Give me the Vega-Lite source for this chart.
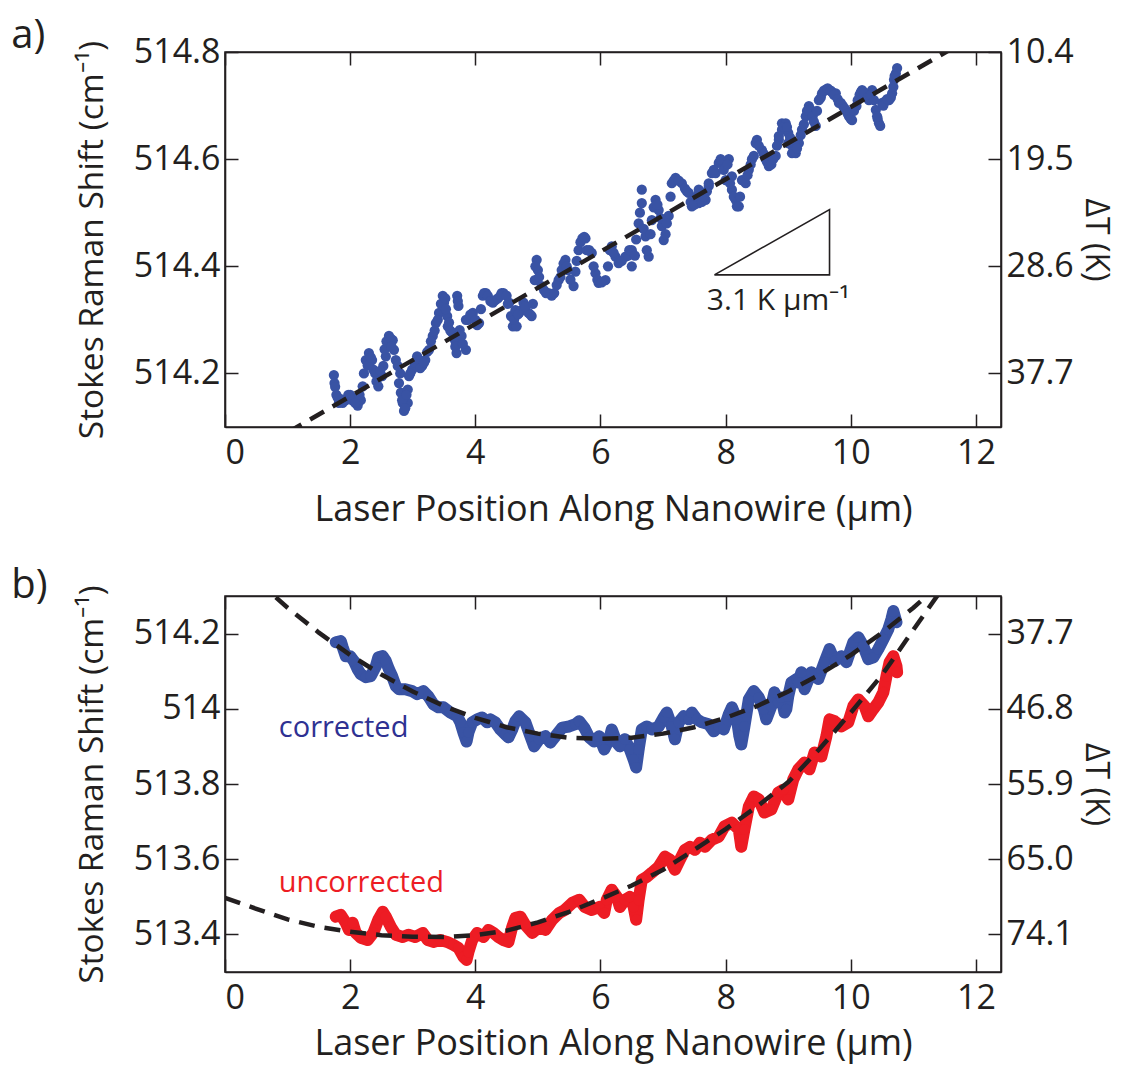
{
  "$schema": "https://vega.github.io/schema/vega-lite/v6.json",
  "background": "white",
  "padding": {"left": 10, "top": 15, "right": 0, "bottom": 3},
  "config": {
    "font": "Open Sans",
    "view": {"stroke": "#231f20", "strokeWidth": 1.6},
    "axis": {"domainColor": "#231f20", "domainWidth": 1.6, "tickColor": "#231f20", "tickWidth": 1.5, "tickSize": -13, "labelFontSize": 34, "labelColor": "#231f20", "titleFontSize": 33.5, "titleFontWeight": "normal", "titleColor": "#231f20", "grid": false, "labelPadding": 18},
    "axisBottom": {"titleFontSize": 36, "titlePadding": 22, "labelPadding": 22},
    "axisRight": {"labelPadding": 18, "titleFontSize": 32},
    "title": {"fontSize": 40, "fontWeight": "normal", "color": "#231f20", "anchor": "start"},
    "concat": {"spacing": 36}
  },
  "datasets": {
    "ptsA": [
      {"x":1.74,"y":514.197},{"x":1.75,"y":514.182},{"x":1.78,"y":514.16},{"x":1.82,"y":514.145},{"x":1.85,"y":514.152},{"x":1.93,"y":514.15},{"x":1.97,"y":514.16},{"x":2.03,"y":514.15},{"x":2.12,"y":514.14},{"x":2.17,"y":514.15},{"x":2.2,"y":514.176},{"x":2.25,"y":514.225},{"x":2.3,"y":514.238},{"x":2.35,"y":514.225},{"x":2.37,"y":514.207},{"x":2.45,"y":514.195},{"x":2.45,"y":514.176},{"x":2.51,"y":514.195},{"x":2.53,"y":514.214},{"x":2.57,"y":514.232},{"x":2.6,"y":514.257},{"x":2.62,"y":514.27},{"x":2.68,"y":514.262},{"x":2.7,"y":514.244},{"x":2.73,"y":514.225},{"x":2.76,"y":514.214},{"x":2.78,"y":514.182},{"x":2.81,"y":514.164},{"x":2.84,"y":514.145},{"x":2.86,"y":514.13},{"x":2.92,"y":514.145},{"x":2.92,"y":514.17},{"x":2.94,"y":514.195},{"x":2.99,"y":514.207},{"x":3.07,"y":514.232},{"x":3.15,"y":514.214},{"x":3.2,"y":514.225},{"x":3.26,"y":514.244},{"x":3.32,"y":514.27},{"x":3.37,"y":514.294},{"x":3.42,"y":514.313},{"x":3.48,"y":514.345},{"x":3.5,"y":514.332},{"x":3.55,"y":514.307},{"x":3.56,"y":514.288},{"x":3.63,"y":514.276},{"x":3.69,"y":514.257},{"x":3.7,"y":514.238},{"x":3.71,"y":514.345},{"x":3.73,"y":514.326},{"x":3.75,"y":514.281},{"x":3.85,"y":514.244},{"x":3.85,"y":514.3},{"x":3.96,"y":514.313},{"x":4.06,"y":514.294},{"x":4.12,"y":514.345},{"x":4.17,"y":514.35},{"x":4.28,"y":514.332},{"x":4.32,"y":514.337},{"x":4.42,"y":514.35},{"x":4.45,"y":514.35},{"x":4.54,"y":514.332},{"x":4.57,"y":514.307},{"x":4.6,"y":514.288},{"x":4.64,"y":514.318},{"x":4.66,"y":514.288},{"x":4.7,"y":514.313},{"x":4.74,"y":514.318},{"x":4.77,"y":514.332},{"x":4.85,"y":514.313},{"x":4.9,"y":514.307},{"x":4.95,"y":514.374},{"x":4.98,"y":514.412},{"x":5.0,"y":514.393},{"x":5.06,"y":514.363},{"x":5.17,"y":514.35},{"x":5.22,"y":514.345},{"x":5.33,"y":514.374},{"x":5.38,"y":514.393},{"x":5.44,"y":514.412},{"x":5.48,"y":514.393},{"x":5.57,"y":514.363},{"x":5.65,"y":514.43},{"x":5.71,"y":514.452},{"x":5.76,"y":514.452},{"x":5.78,"y":514.43},{"x":5.86,"y":514.425},{"x":5.92,"y":514.387},{"x":5.97,"y":514.369},{"x":6.08,"y":514.374},{"x":6.18,"y":514.437},{"x":6.24,"y":514.418},{"x":6.29,"y":514.406},{"x":6.4,"y":514.418},{"x":6.5,"y":514.43},{"x":6.5,"y":514.4},{"x":6.61,"y":514.48},{"x":6.66,"y":514.518},{"x":6.66,"y":514.543},{"x":6.72,"y":514.456},{"x":6.77,"y":514.418},{"x":6.82,"y":514.486},{"x":6.88,"y":514.524},{"x":6.93,"y":514.505},{"x":6.98,"y":514.475},{"x":7.01,"y":514.449},{"x":7.09,"y":514.494},{"x":7.14,"y":514.555},{"x":7.2,"y":514.565},{"x":7.3,"y":514.555},{"x":7.41,"y":514.537},{"x":7.46,"y":514.512},{"x":7.57,"y":514.518},{"x":7.57,"y":514.543},{"x":7.68,"y":514.524},{"x":7.73,"y":514.55},{"x":7.73,"y":514.555},{"x":7.78,"y":514.574},{"x":7.84,"y":514.574},{"x":7.89,"y":514.593},{"x":7.94,"y":514.593},{"x":8.0,"y":514.561},{"x":8.05,"y":514.6},{"x":8.1,"y":514.543},{"x":8.1,"y":514.568},{"x":8.16,"y":514.524},{"x":8.18,"y":514.512},{"x":8.21,"y":514.512},{"x":8.26,"y":514.561},{"x":8.32,"y":514.555},{"x":8.37,"y":514.58},{"x":8.42,"y":514.6},{"x":8.45,"y":514.606},{"x":8.48,"y":514.63},{"x":8.5,"y":514.636},{"x":8.58,"y":514.617},{"x":8.64,"y":514.6},{"x":8.69,"y":514.593},{"x":8.69,"y":514.587},{"x":8.8,"y":514.606},{"x":8.85,"y":514.636},{"x":8.85,"y":514.643},{"x":8.9,"y":514.655},{"x":8.9,"y":514.667},{"x":8.96,"y":514.667},{"x":9.0,"y":514.649},{"x":9.0,"y":514.63},{"x":9.06,"y":514.611},{"x":9.06,"y":514.625},{"x":9.12,"y":514.611},{"x":9.17,"y":514.63},{"x":9.22,"y":514.655},{"x":9.28,"y":514.68},{"x":9.33,"y":514.699},{"x":9.36,"y":514.692},{"x":9.44,"y":514.662},{"x":9.49,"y":514.71},{"x":9.54,"y":514.723},{"x":9.6,"y":514.73},{"x":9.65,"y":514.729},{"x":9.7,"y":514.725},{"x":9.76,"y":514.723},{"x":9.81,"y":514.705},{"x":9.87,"y":514.7},{"x":9.92,"y":514.692},{"x":9.97,"y":514.68},{"x":10.02,"y":514.673},{"x":10.09,"y":514.699},{"x":10.14,"y":514.72},{"x":10.18,"y":514.729},{"x":10.24,"y":514.72},{"x":10.29,"y":514.71},{"x":10.34,"y":514.729},{"x":10.4,"y":514.692},{"x":10.43,"y":514.675},{"x":10.45,"y":514.667},{"x":10.47,"y":514.662},{"x":10.5,"y":514.705},{"x":10.55,"y":514.708},{"x":10.61,"y":514.71},{"x":10.66,"y":514.723},{"x":10.69,"y":514.748},{"x":10.72,"y":514.76},{"x":10.74,"y":514.77},
      {"x":1.76,"y":514.175},{"x":1.8,"y":514.155},{"x":1.88,"y":514.145},{"x":2.0,"y":514.16},{"x":2.08,"y":514.145},{"x":2.15,"y":514.16},{"x":2.22,"y":514.2},{"x":2.28,"y":514.215},{"x":2.33,"y":514.23},{"x":2.4,"y":514.2},{"x":2.42,"y":514.185},{"x":2.48,"y":514.205},{"x":2.55,"y":514.245},{"x":2.58,"y":514.26},{"x":2.65,"y":514.265},{"x":2.66,"y":514.25},{"x":2.8,"y":514.2},{"x":2.83,"y":514.15},{"x":2.88,"y":514.135},{"x":2.9,"y":514.16},{"x":2.96,"y":514.2},{"x":3.03,"y":514.22},{"x":3.1,"y":514.225},{"x":3.12,"y":514.21},{"x":3.18,"y":514.22},{"x":3.23,"y":514.24},{"x":3.29,"y":514.26},{"x":3.35,"y":514.28},{"x":3.4,"y":514.3},{"x":3.45,"y":514.33},{"x":3.52,"y":514.34},{"x":3.53,"y":514.32},{"x":3.58,"y":514.295},{"x":3.6,"y":514.28},{"x":3.66,"y":514.265},{"x":3.68,"y":514.25},{"x":3.72,"y":514.335},{"x":3.78,"y":514.27},{"x":3.8,"y":514.255},{"x":3.88,"y":514.3},{"x":3.92,"y":514.31},{"x":4.0,"y":514.3},{"x":4.03,"y":514.29},{"x":4.09,"y":514.32},{"x":4.14,"y":514.35},{"x":4.2,"y":514.345},{"x":4.24,"y":514.335},{"x":4.36,"y":514.34},{"x":4.4,"y":514.345},{"x":4.5,"y":514.345},{"x":4.52,"y":514.33},{"x":4.62,"y":514.3},{"x":4.68,"y":514.31},{"x":4.8,"y":514.325},{"x":4.88,"y":514.31},{"x":4.92,"y":514.33},{"x":4.96,"y":514.4},{"x":5.02,"y":514.38},{"x":5.1,"y":514.355},{"x":5.13,"y":514.35},{"x":5.26,"y":514.35},{"x":5.3,"y":514.365},{"x":5.36,"y":514.38},{"x":5.41,"y":514.405},{"x":5.46,"y":514.4},{"x":5.52,"y":514.375},{"x":5.6,"y":514.39},{"x":5.62,"y":514.41},{"x":5.68,"y":514.445},{"x":5.74,"y":514.455},{"x":5.82,"y":514.43},{"x":5.89,"y":514.4},{"x":5.95,"y":514.375},{"x":6.02,"y":514.37},{"x":6.12,"y":514.4},{"x":6.15,"y":514.43},{"x":6.21,"y":514.425},{"x":6.34,"y":514.41},{"x":6.44,"y":514.42},{"x":6.46,"y":514.43},{"x":6.55,"y":514.42},{"x":6.57,"y":514.45},{"x":6.63,"y":514.5},{"x":6.69,"y":514.47},{"x":6.74,"y":514.43},{"x":6.8,"y":514.46},{"x":6.85,"y":514.51},{"x":6.91,"y":514.515},{"x":6.96,"y":514.49},{"x":7.04,"y":514.46},{"x":7.06,"y":514.48},{"x":7.12,"y":514.53},{"x":7.17,"y":514.56},{"x":7.25,"y":514.56},{"x":7.35,"y":514.545},{"x":7.38,"y":514.54},{"x":7.44,"y":514.52},{"x":7.5,"y":514.515},{"x":7.53,"y":514.53},{"x":7.62,"y":514.52},{"x":7.65,"y":514.53},{"x":7.7,"y":514.54},{"x":7.81,"y":514.58},{"x":7.92,"y":514.6},{"x":7.97,"y":514.58},{"x":8.03,"y":514.59},{"x":8.07,"y":514.555},{"x":8.13,"y":514.53},{"x":8.23,"y":514.53},{"x":8.29,"y":514.56},{"x":8.35,"y":514.57},{"x":8.4,"y":514.59},{"x":8.53,"y":514.625},{"x":8.61,"y":514.61},{"x":8.66,"y":514.595},{"x":8.73,"y":514.59},{"x":8.76,"y":514.6},{"x":8.82,"y":514.625},{"x":8.93,"y":514.66},{"x":8.98,"y":514.66},{"x":9.03,"y":514.64},{"x":9.09,"y":514.615},{"x":9.14,"y":514.62},{"x":9.2,"y":514.645},{"x":9.25,"y":514.665},{"x":9.3,"y":514.69},{"x":9.39,"y":514.68},{"x":9.41,"y":514.67},{"x":9.46,"y":514.69},{"x":9.52,"y":514.715},{"x":9.57,"y":514.728},{"x":9.63,"y":514.732},{"x":9.68,"y":514.728},{"x":9.73,"y":514.72},{"x":9.79,"y":514.712},{"x":9.84,"y":514.705},{"x":9.9,"y":514.695},{"x":9.95,"y":514.685},{"x":10.0,"y":514.675},{"x":10.05,"y":514.69},{"x":10.11,"y":514.71},{"x":10.16,"y":514.725},{"x":10.21,"y":514.725},{"x":10.27,"y":514.715},{"x":10.32,"y":514.72},{"x":10.37,"y":514.71},{"x":10.42,"y":514.68},{"x":10.52,"y":514.7},{"x":10.58,"y":514.712},{"x":10.64,"y":514.715},{"x":10.68,"y":514.735},{"x":10.7,"y":514.755}
    ],
    "fitA": [{"x":1.0,"y":514.0898},{"x":12.0,"y":514.8323}],
    "triA": [{"o":1,"x":7.82,"y":514.384},{"o":2,"x":9.66,"y":514.384},{"o":3,"x":9.66,"y":514.506},{"o":4,"x":7.82,"y":514.384}],
    "txtA": [{"x":7.7,"y":514.318,"t":"3.1 K µm⁻¹"}],
    "ptsB": [
      {"s":"corrected","x":1.77,"y":514.177},{"s":"corrected","x":1.85,"y":514.18},{"s":"corrected","x":1.88,"y":514.164},{"s":"corrected","x":1.93,"y":514.14},{"s":"corrected","x":2.0,"y":514.14},{"s":"corrected","x":2.06,"y":514.127},{"s":"corrected","x":2.12,"y":514.105},{"s":"corrected","x":2.17,"y":514.092},{"s":"corrected","x":2.25,"y":514.084},{"s":"corrected","x":2.33,"y":514.087},{"s":"corrected","x":2.41,"y":514.113},{"s":"corrected","x":2.45,"y":514.137},{"s":"corrected","x":2.52,"y":514.14},{"s":"corrected","x":2.57,"y":514.127},{"s":"corrected","x":2.62,"y":514.105},{"s":"corrected","x":2.67,"y":514.087},{"s":"corrected","x":2.73,"y":514.06},{"s":"corrected","x":2.78,"y":514.052},{"s":"corrected","x":2.88,"y":514.052},{"s":"corrected","x":2.99,"y":514.047},{"s":"corrected","x":3.07,"y":514.039},{"s":"corrected","x":3.17,"y":514.047},{"s":"corrected","x":3.25,"y":514.033},{"s":"corrected","x":3.33,"y":514.012},{"s":"corrected","x":3.41,"y":514.004},{"s":"corrected","x":3.49,"y":514.004},{"s":"corrected","x":3.6,"y":513.99},{"s":"corrected","x":3.71,"y":513.98},{"s":"corrected","x":3.76,"y":513.964},{"s":"corrected","x":3.81,"y":513.937},{"s":"corrected","x":3.86,"y":513.913},{"s":"corrected","x":3.89,"y":513.937},{"s":"corrected","x":3.95,"y":513.964},{"s":"corrected","x":4.03,"y":513.972},{"s":"corrected","x":4.11,"y":513.977},{"s":"corrected","x":4.19,"y":513.964},{"s":"corrected","x":4.24,"y":513.972},{"s":"corrected","x":4.32,"y":513.964},{"s":"corrected","x":4.4,"y":513.945},{"s":"corrected","x":4.48,"y":513.932},{"s":"corrected","x":4.53,"y":513.924},{"s":"corrected","x":4.59,"y":513.945},{"s":"corrected","x":4.64,"y":513.967},{"s":"corrected","x":4.7,"y":513.98},{"s":"corrected","x":4.8,"y":513.964},{"s":"corrected","x":4.88,"y":513.927},{"s":"corrected","x":4.94,"y":513.9},{"s":"corrected","x":5.02,"y":513.919},{"s":"corrected","x":5.12,"y":513.927},{"s":"corrected","x":5.2,"y":513.91},{"s":"corrected","x":5.28,"y":513.927},{"s":"corrected","x":5.39,"y":513.95},{"s":"corrected","x":5.5,"y":513.953},{"s":"corrected","x":5.6,"y":513.959},{"s":"corrected","x":5.66,"y":513.967},{"s":"corrected","x":5.74,"y":513.95},{"s":"corrected","x":5.82,"y":513.924},{"s":"corrected","x":5.9,"y":513.913},{"s":"corrected","x":5.98,"y":513.927},{"s":"corrected","x":6.06,"y":513.892},{"s":"corrected","x":6.14,"y":513.919},{"s":"corrected","x":6.18,"y":513.945},{"s":"corrected","x":6.26,"y":513.91},{"s":"corrected","x":6.31,"y":513.9},{"s":"corrected","x":6.39,"y":513.919},{"s":"corrected","x":6.47,"y":513.892},{"s":"corrected","x":6.53,"y":513.865},{"s":"corrected","x":6.57,"y":513.844},{"s":"corrected","x":6.61,"y":513.892},{"s":"corrected","x":6.66,"y":513.945},{"s":"corrected","x":6.74,"y":513.953},{"s":"corrected","x":6.82,"y":513.945},{"s":"corrected","x":6.93,"y":513.953},{"s":"corrected","x":7.01,"y":513.977},{"s":"corrected","x":7.06,"y":513.99},{"s":"corrected","x":7.14,"y":513.953},{"s":"corrected","x":7.19,"y":513.919},{"s":"corrected","x":7.25,"y":513.964},{"s":"corrected","x":7.33,"y":513.98},{"s":"corrected","x":7.41,"y":513.972},{"s":"corrected","x":7.46,"y":513.99},{"s":"corrected","x":7.54,"y":513.972},{"s":"corrected","x":7.62,"y":513.964},{"s":"corrected","x":7.73,"y":513.959},{"s":"corrected","x":7.81,"y":513.94},{"s":"corrected","x":7.89,"y":513.953},{"s":"corrected","x":7.97,"y":513.945},{"s":"corrected","x":8.05,"y":513.985},{"s":"corrected","x":8.1,"y":514.004},{"s":"corrected","x":8.18,"y":513.972},{"s":"corrected","x":8.22,"y":513.927},{"s":"corrected","x":8.25,"y":513.905},{"s":"corrected","x":8.3,"y":513.953},{"s":"corrected","x":8.37,"y":514.025},{"s":"corrected","x":8.45,"y":514.047},{"s":"corrected","x":8.53,"y":514.03},{"s":"corrected","x":8.61,"y":513.999},{"s":"corrected","x":8.65,"y":513.972},{"s":"corrected","x":8.73,"y":514.007},{"s":"corrected","x":8.78,"y":514.044},{"s":"corrected","x":8.84,"y":514.017},{"s":"corrected","x":8.89,"y":514.03},{"s":"corrected","x":8.94,"y":513.99},{"s":"corrected","x":8.97,"y":513.999},{"s":"corrected","x":9.0,"y":514.033},{"s":"corrected","x":9.05,"y":514.07},{"s":"corrected","x":9.13,"y":514.079},{"s":"corrected","x":9.16,"y":514.07},{"s":"corrected","x":9.21,"y":514.097},{"s":"corrected","x":9.26,"y":514.052},{"s":"corrected","x":9.37,"y":514.097},{"s":"corrected","x":9.48,"y":514.079},{"s":"corrected","x":9.58,"y":514.124},{"s":"corrected","x":9.66,"y":514.159},{"s":"corrected","x":9.74,"y":514.127},{"s":"corrected","x":9.85,"y":514.14},{"s":"corrected","x":9.93,"y":514.124},{"s":"corrected","x":10.04,"y":514.177},{"s":"corrected","x":10.12,"y":514.19},{"s":"corrected","x":10.2,"y":514.167},{"s":"corrected","x":10.28,"y":514.132},{"s":"corrected","x":10.36,"y":514.137},{"s":"corrected","x":10.44,"y":514.159},{"s":"corrected","x":10.52,"y":514.185},{"s":"corrected","x":10.6,"y":514.212},{"s":"corrected","x":10.65,"y":514.239},{"s":"corrected","x":10.68,"y":514.26},{"s":"corrected","x":10.73,"y":514.23},
      {"s":"uncorrected","x":1.77,"y":513.447},{"s":"uncorrected","x":1.85,"y":513.452},{"s":"uncorrected","x":1.93,"y":513.431},{"s":"uncorrected","x":1.98,"y":513.412},{"s":"uncorrected","x":2.04,"y":513.431},{"s":"uncorrected","x":2.09,"y":513.404},{"s":"uncorrected","x":2.17,"y":513.391},{"s":"uncorrected","x":2.28,"y":513.385},{"s":"uncorrected","x":2.37,"y":513.404},{"s":"uncorrected","x":2.45,"y":513.439},{"s":"uncorrected","x":2.52,"y":513.46},{"s":"uncorrected","x":2.57,"y":513.447},{"s":"uncorrected","x":2.65,"y":513.42},{"s":"uncorrected","x":2.73,"y":513.399},{"s":"uncorrected","x":2.84,"y":513.393},{"s":"uncorrected","x":2.93,"y":513.399},{"s":"uncorrected","x":3.04,"y":513.393},{"s":"uncorrected","x":3.16,"y":513.404},{"s":"uncorrected","x":3.24,"y":513.385},{"s":"uncorrected","x":3.33,"y":513.38},{"s":"uncorrected","x":3.44,"y":513.385},{"s":"uncorrected","x":3.55,"y":513.38},{"s":"uncorrected","x":3.65,"y":513.372},{"s":"uncorrected","x":3.73,"y":513.364},{"s":"uncorrected","x":3.81,"y":513.34},{"s":"uncorrected","x":3.86,"y":513.332},{"s":"uncorrected","x":3.89,"y":513.353},{"s":"uncorrected","x":3.95,"y":513.385},{"s":"uncorrected","x":4.03,"y":513.404},{"s":"uncorrected","x":4.13,"y":513.393},{"s":"uncorrected","x":4.21,"y":513.412},{"s":"uncorrected","x":4.29,"y":513.404},{"s":"uncorrected","x":4.37,"y":513.393},{"s":"uncorrected","x":4.45,"y":513.385},{"s":"uncorrected","x":4.53,"y":513.38},{"s":"uncorrected","x":4.59,"y":513.42},{"s":"uncorrected","x":4.64,"y":513.444},{"s":"uncorrected","x":4.72,"y":513.447},{"s":"uncorrected","x":4.8,"y":513.425},{"s":"uncorrected","x":4.91,"y":513.404},{"s":"uncorrected","x":5.02,"y":513.42},{"s":"uncorrected","x":5.12,"y":513.412},{"s":"uncorrected","x":5.23,"y":513.439},{"s":"uncorrected","x":5.34,"y":513.457},{"s":"uncorrected","x":5.43,"y":513.465},{"s":"uncorrected","x":5.55,"y":513.484},{"s":"uncorrected","x":5.66,"y":513.492},{"s":"uncorrected","x":5.75,"y":513.473},{"s":"uncorrected","x":5.86,"y":513.465},{"s":"uncorrected","x":5.98,"y":513.473},{"s":"uncorrected","x":6.06,"y":513.457},{"s":"uncorrected","x":6.1,"y":513.492},{"s":"uncorrected","x":6.18,"y":513.519},{"s":"uncorrected","x":6.26,"y":513.5},{"s":"uncorrected","x":6.31,"y":513.473},{"s":"uncorrected","x":6.39,"y":513.492},{"s":"uncorrected","x":6.47,"y":513.5},{"s":"uncorrected","x":6.53,"y":513.473},{"s":"uncorrected","x":6.57,"y":513.439},{"s":"uncorrected","x":6.61,"y":513.492},{"s":"uncorrected","x":6.66,"y":513.545},{"s":"uncorrected","x":6.74,"y":513.553},{"s":"uncorrected","x":6.82,"y":513.564},{"s":"uncorrected","x":6.93,"y":513.58},{"s":"uncorrected","x":7.03,"y":513.607},{"s":"uncorrected","x":7.11,"y":513.599},{"s":"uncorrected","x":7.19,"y":513.572},{"s":"uncorrected","x":7.27,"y":513.599},{"s":"uncorrected","x":7.35,"y":513.625},{"s":"uncorrected","x":7.43,"y":513.633},{"s":"uncorrected","x":7.51,"y":513.625},{"s":"uncorrected","x":7.59,"y":513.644},{"s":"uncorrected","x":7.67,"y":513.633},{"s":"uncorrected","x":7.78,"y":513.652},{"s":"uncorrected","x":7.89,"y":513.66},{"s":"uncorrected","x":7.98,"y":513.687},{"s":"uncorrected","x":8.1,"y":513.697},{"s":"uncorrected","x":8.21,"y":513.679},{"s":"uncorrected","x":8.25,"y":513.633},{"s":"uncorrected","x":8.3,"y":513.679},{"s":"uncorrected","x":8.37,"y":513.74},{"s":"uncorrected","x":8.45,"y":513.767},{"s":"uncorrected","x":8.53,"y":513.759},{"s":"uncorrected","x":8.62,"y":513.724},{"s":"uncorrected","x":8.73,"y":513.732},{"s":"uncorrected","x":8.84,"y":513.777},{"s":"uncorrected","x":8.92,"y":513.785},{"s":"uncorrected","x":9.0,"y":513.759},{"s":"uncorrected","x":9.08,"y":513.812},{"s":"uncorrected","x":9.16,"y":513.839},{"s":"uncorrected","x":9.26,"y":513.857},{"s":"uncorrected","x":9.34,"y":513.839},{"s":"uncorrected","x":9.42,"y":513.884},{"s":"uncorrected","x":9.53,"y":513.873},{"s":"uncorrected","x":9.61,"y":513.927},{"s":"uncorrected","x":9.66,"y":513.972},{"s":"uncorrected","x":9.74,"y":513.967},{"s":"uncorrected","x":9.85,"y":513.953},{"s":"uncorrected","x":9.96,"y":513.964},{"s":"uncorrected","x":10.04,"y":514.007},{"s":"uncorrected","x":10.12,"y":514.025},{"s":"uncorrected","x":10.22,"y":514.007},{"s":"uncorrected","x":10.28,"y":513.98},{"s":"uncorrected","x":10.36,"y":513.999},{"s":"uncorrected","x":10.44,"y":514.017},{"s":"uncorrected","x":10.52,"y":514.044},{"s":"uncorrected","x":10.57,"y":514.087},{"s":"uncorrected","x":10.62,"y":514.124},{"s":"uncorrected","x":10.68,"y":514.14},{"s":"uncorrected","x":10.73,"y":514.113},{"s":"uncorrected","x":10.74,"y":514.097}
    ],
    "fitB": [
      {"s":"corrected","x":0.5,"y":514.342},{"s":"corrected","x":1.0,"y":514.269},{"s":"corrected","x":1.5,"y":514.2025},{"s":"corrected","x":2.0,"y":514.143},{"s":"corrected","x":2.5,"y":514.091},{"s":"corrected","x":3.0,"y":514.046},{"s":"corrected","x":3.5,"y":514.007},{"s":"corrected","x":4.0,"y":513.976},{"s":"corrected","x":4.5,"y":513.951},{"s":"corrected","x":5.0,"y":513.934},{"s":"corrected","x":5.5,"y":513.923},{"s":"corrected","x":6.0,"y":513.92},{"s":"corrected","x":6.5,"y":513.923},{"s":"corrected","x":7.0,"y":513.934},{"s":"corrected","x":7.5,"y":513.951},{"s":"corrected","x":8.0,"y":513.976},{"s":"corrected","x":8.5,"y":514.007},{"s":"corrected","x":9.0,"y":514.046},{"s":"corrected","x":9.5,"y":514.091},{"s":"corrected","x":10.0,"y":514.143},{"s":"corrected","x":10.5,"y":514.2025},{"s":"corrected","x":11.0,"y":514.269},{"s":"corrected","x":11.5,"y":514.342},
      {"s":"uncorrected","x":0.0,"y":513.497},{"s":"uncorrected","x":0.5,"y":513.468},{"s":"uncorrected","x":1.0,"y":513.44},{"s":"uncorrected","x":1.5,"y":513.42},{"s":"uncorrected","x":2.0,"y":513.407},{"s":"uncorrected","x":2.5,"y":513.398},{"s":"uncorrected","x":3.0,"y":513.394},{"s":"uncorrected","x":3.5,"y":513.393},{"s":"uncorrected","x":4.0,"y":513.398},{"s":"uncorrected","x":4.5,"y":513.41},{"s":"uncorrected","x":5.0,"y":513.432},{"s":"uncorrected","x":5.5,"y":513.46},{"s":"uncorrected","x":6.0,"y":513.494},{"s":"uncorrected","x":6.5,"y":513.53},{"s":"uncorrected","x":7.0,"y":513.572},{"s":"uncorrected","x":7.5,"y":513.625},{"s":"uncorrected","x":8.0,"y":513.68},{"s":"uncorrected","x":8.5,"y":513.74},{"s":"uncorrected","x":9.0,"y":513.805},{"s":"uncorrected","x":9.5,"y":513.893},{"s":"uncorrected","x":10.0,"y":513.99},{"s":"uncorrected","x":10.5,"y":514.09},{"s":"uncorrected","x":11.0,"y":514.21},{"s":"uncorrected","x":11.4,"y":514.305},{"s":"uncorrected","x":11.6,"y":514.36}
    ],
    "txtB": [{"x":0.86,"y":513.924,"t":"corrected"},{"x":0.86,"y":513.513,"t":"uncorrected"}]
  },
  "vconcat": [
    {
      "width": 776,
      "height": 375,
      "title": {"text": "a)", "dx": -64, "dy": 21, "offset": 0},
      "layer": [
        {
          "data": {"name": "ptsA"},
          "mark": {"type": "circle", "size": 105, "opacity": 1, "color": "#3953a4"},
          "encoding": {
            "x": {"field": "x", "type": "quantitative", "scale": {"domain": [0, 12.4], "nice": false, "zero": false}, "axis": {"orient": "bottom", "values": [0, 2, 4, 6, 8, 10, 12], "format": "d", "title": "Laser Position Along Nanowire (µm)"}},
            "y": {"field": "y", "type": "quantitative", "scale": {"domain": [514.1, 514.8], "nice": false, "zero": false}, "axis": {"orient": "left", "values": [514.2, 514.4, 514.6, 514.8], "format": ".1~f", "title": "Stokes Raman Shift (cm⁻¹)", "titlePadding": 24}}
          }
        },
        {
          "data": {"name": "fitA"},
          "mark": {"type": "line", "color": "#231f20", "strokeWidth": 4.5, "strokeDash": [16, 10], "clip": true},
          "encoding": {
            "x": {"field": "x", "type": "quantitative", "scale": {"domain": [0, 12.4], "nice": false, "zero": false}, "axis": {"orient": "top", "values": [0, 2, 4, 6, 8, 10, 12], "labels": false, "title": null}},
            "y": {"field": "y", "type": "quantitative", "scale": {"domain": [514.1, 514.8], "nice": false, "zero": false}, "axis": {"orient": "right", "values": [514.2, 514.4, 514.6, 514.8], "labelExpr": "format(10.4 + (514.8 - datum.value) * 45.5, '.1f')", "title": "ΔT (K)", "titleAngle": 90, "titlePadding": 5}}
          }
        },
        {
          "data": {"name": "triA"},
          "mark": {"type": "line", "color": "#231f20", "strokeWidth": 1.6},
          "encoding": {
            "x": {"field": "x", "type": "quantitative", "axis": null},
            "y": {"field": "y", "type": "quantitative", "axis": null},
            "order": {"field": "o", "type": "quantitative"}
          }
        },
        {
          "data": {"name": "txtA"},
          "mark": {"type": "text", "align": "left", "baseline": "alphabetic", "fontSize": 30, "color": "#231f20"},
          "encoding": {
            "x": {"field": "x", "type": "quantitative", "axis": null},
            "y": {"field": "y", "type": "quantitative", "axis": null},
            "text": {"field": "t"}
          }
        }
      ],
      "resolve": {"axis": {"x": "independent", "y": "independent"}}
    },
    {
      "width": 776,
      "height": 376,
      "title": {"text": "b)", "dx": -64, "dy": 21, "offset": 0},
      "layer": [
        {
          "data": {"name": "ptsB"},
          "mark": {"type": "line", "strokeWidth": 12, "strokeCap": "round", "strokeJoin": "round"},
          "encoding": {
            "x": {"field": "x", "type": "quantitative", "scale": {"domain": [0, 12.4], "nice": false, "zero": false}, "axis": {"orient": "bottom", "values": [0, 2, 4, 6, 8, 10, 12], "format": "d", "title": "Laser Position Along Nanowire (µm)", "titlePadding": 11}},
            "y": {"field": "y", "type": "quantitative", "scale": {"domain": [513.3, 514.3], "nice": false, "zero": false}, "axis": {"orient": "left", "values": [513.4, 513.6, 513.8, 514, 514.2], "format": ".1~f", "title": "Stokes Raman Shift (cm⁻¹)", "titlePadding": 24}},
            "color": {"field": "s", "type": "nominal", "scale": {"domain": ["corrected", "uncorrected"], "range": ["#3953a4", "#ed1c24"]}, "legend": null}
          }
        },
        {
          "data": {"name": "ptsB"},
          "mark": {"type": "circle", "size": 120, "opacity": 1},
          "encoding": {
            "x": {"field": "x", "type": "quantitative", "axis": null},
            "y": {"field": "y", "type": "quantitative", "axis": null},
            "color": {"field": "s", "type": "nominal", "scale": {"domain": ["corrected", "uncorrected"], "range": ["#3953a4", "#ed1c24"]}, "legend": null}
          }
        },
        {
          "data": {"name": "fitB"},
          "mark": {"type": "line", "color": "#231f20", "strokeWidth": 4.5, "strokeDash": [16, 10], "clip": true},
          "encoding": {
            "x": {"field": "x", "type": "quantitative", "scale": {"domain": [0, 12.4], "nice": false, "zero": false}, "axis": {"orient": "top", "values": [0, 2, 4, 6, 8, 10, 12], "labels": false, "title": null}},
            "y": {"field": "y", "type": "quantitative", "scale": {"domain": [513.3, 514.3], "nice": false, "zero": false}, "axis": {"orient": "right", "values": [513.4, 513.6, 513.8, 514, 514.2], "labelExpr": "format(37.7 + (514.2 - datum.value) * 45.5, '.1f')", "title": "ΔT (K)", "titleAngle": 90, "titlePadding": 5}},
            "detail": {"field": "s"}
          }
        },
        {
          "data": {"name": "txtB"},
          "mark": {"type": "text", "align": "left", "baseline": "alphabetic", "fontSize": 29},
          "encoding": {
            "x": {"field": "x", "type": "quantitative", "axis": null},
            "y": {"field": "y", "type": "quantitative", "axis": null},
            "text": {"field": "t"},
            "color": {"field": "t", "type": "nominal", "scale": {"domain": ["corrected", "uncorrected"], "range": ["#2e3192", "#ed1c24"]}, "legend": null}
          }
        }
      ],
      "resolve": {"axis": {"x": "independent", "y": "independent"}, "scale": {"color": "independent"}}
    }
  ]
}
